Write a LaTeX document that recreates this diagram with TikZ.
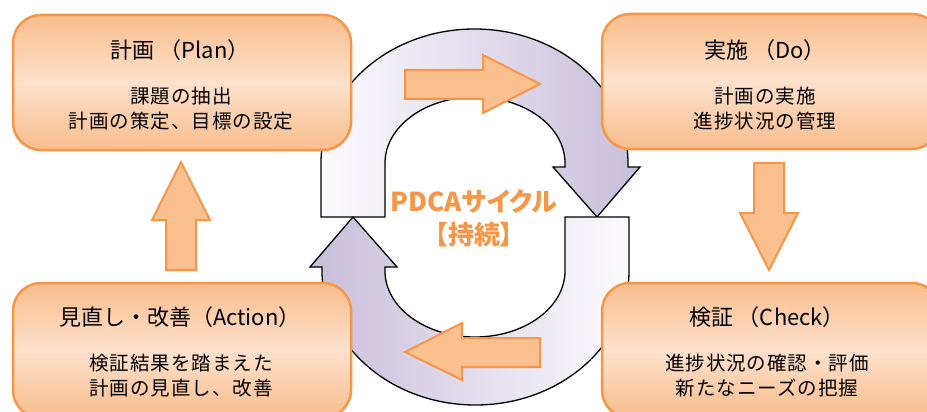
\documentclass[tikz,border=0pt]{standalone}
\usepackage{fontspec}
\setmainfont{Noto Sans CJK JP}
\newfontfamily\subfont[LetterSpace=5]{Noto Sans CJK JP}
\newfontfamily\pdcafont[RawFeature=+palt]{Noto Sans CJK JP}
\definecolor{boxor}{HTML}{F79646}
\definecolor{boxtop}{HTML}{F9BD8C}
\definecolor{boxmid}{HTML}{FDE1CC}
\definecolor{arrfill}{HTML}{FAC090}
\definecolor{lav}{HTML}{C8BDDA}
\definecolor{lavlight}{HTML}{FCFBFE}
\tikzset{
  pbox/.style={draw=boxor, line width=2.5pt, rounded corners=28pt,
    top color=boxtop, bottom color=boxtop, middle color=boxmid,
    minimum width=338pt, minimum height=135pt, inner sep=0pt},
  titletext/.style={font=\fontsize{22}{26}\selectfont, inner sep=0pt},
  subtext/.style={font=\fontsize{19.5}{25}\subfont, align=center, inner sep=0pt},
  blockarrow/.style={draw=boxor, fill=arrfill, line width=2pt, line join=miter},
  loopshape/.style={draw=black, line width=1.3pt, line join=miter},
  pdca/.style={font=\fontsize{26}{33}\pdcafont\bfseries, text=boxor, align=center, inner sep=0pt}
}
\begin{document}
\begin{tikzpicture}[x=1pt, y=-1pt]
\useasboundingbox (0,0) rectangle (927,412);
\clip (0,0) rectangle (927,412);
\fill[white] (0,0) rectangle (927,412);
% loop arrows
\draw[loopshape, left color=lavlight, right color=lav]
  (321,217) -- (321,163) arc[start angle=180, end angle=360, x radius=153.5, y radius=134]
  -- (628,167) -- (640,167) -- (597,217) -- (553,167) -- (565,167) -- (565,163)
  arc[start angle=0, end angle=-180, x radius=90, y radius=66]
  -- (385,217) -- cycle;
\draw[loopshape, left color=lav, right color=lavlight]
  (629,217) -- (629,271) arc[start angle=0, end angle=180, x radius=153.5, y radius=134]
  -- (322,267) -- (310,267) -- (353,217) -- (397,267) -- (385,267) -- (385,271)
  arc[start angle=180, end angle=0, x radius=90, y radius=66]
  -- (565,217) -- cycle;
% boxes
\node[pbox] (plan) at (182,82.5) {};
\node[pbox] (do) at (771,81.5) {};
\node[pbox] (act) at (182,350.5) {};
\node[pbox] (chk) at (771,350.5) {};
% titles
\node[titletext] (plant) at (180,50) {計画 （Plan）};
\node[titletext] (dot) at (765,50) {実施 （Do）};
\node[titletext] (actt) at (180,317) {見直し・改善（Action）};
\node[titletext] (chkt) at (767,317) {検証 （Check）};
% sub texts
\node[subtext] (plans) at (181,108.5) {課題の抽出\\計画の策定、目標の設定};
\node[subtext] (dos) at (765,108.5) {計画の実施\\進捗状況の管理};
\node[subtext] (acts) at (181,376) {検証結果を踏まえた\\計画の見直し、改善};
\node[subtext] (chks) at (767,376) {進捗状況の確認・評価\\新たなニーズの把握};
% block arrows
\draw[blockarrow] (166,270) -- (166,220) -- (152,220) -- (181,162) -- (210,220) -- (196,220) -- (196,270) -- cycle;
\draw[blockarrow] (754,163) -- (754,213) -- (740,213) -- (769,270) -- (798,213) -- (784,213) -- (784,163) -- cycle;
\draw[blockarrow] (405,70) -- (483,70) -- (483,55) -- (540,84) -- (483,113) -- (483,99) -- (405,99) -- cycle;
\draw[blockarrow] (540,338) -- (462,338) -- (462,323) -- (405,352) -- (462,380) -- (462,367) -- (540,367) -- cycle;
% center text
\node[pdca] (cyc) at (474,218) {PDCAサイクル\\【持続】};
\end{tikzpicture}
\end{document}
